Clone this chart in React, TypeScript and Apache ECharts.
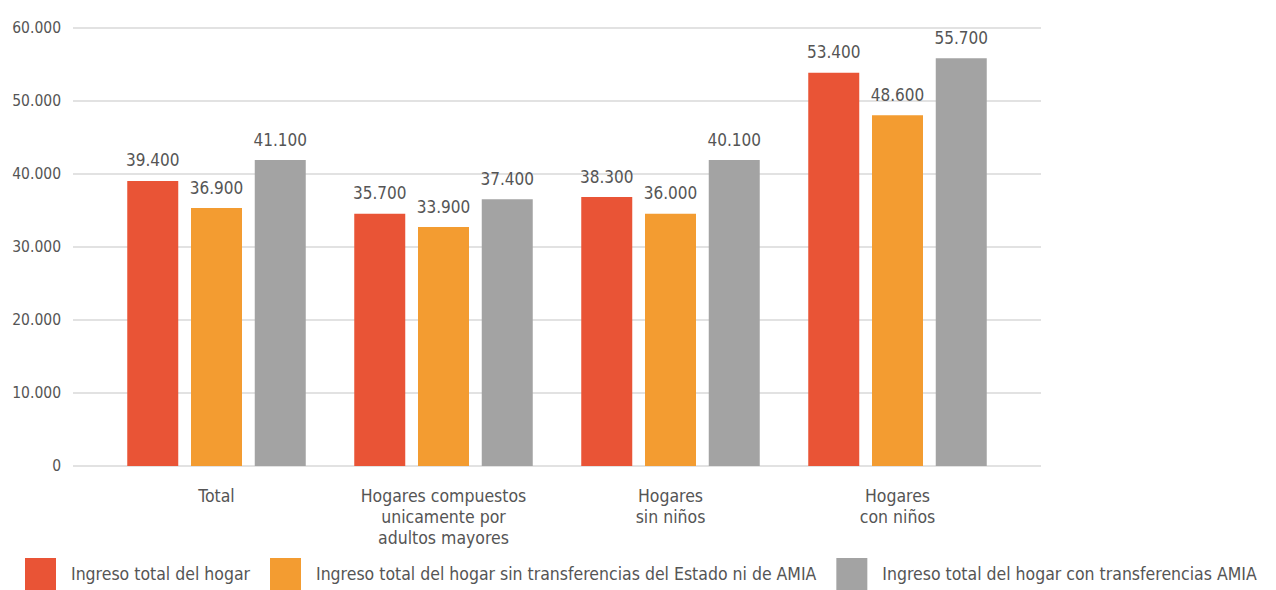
import React, { useEffect, useRef } from "react";
import * as echarts from "echarts";

const categories = [
  "Total",
  "Hogares compuestos\nunicamente por\nadultos mayores",
  "Hogares\nsin niños",
  "Hogares\ncon niños",
];
const seriesNames = [
  "Ingreso total del hogar",
  "Ingreso total del hogar sin transferencias del Estado ni de AMIA",
  "Ingreso total del hogar con transferencias AMIA",
];
// bar heights as drawn in the picture
const totalHogar = [39000, 34500, 36800, 53800];
const sinTransferencias = [35300, 32700, 34500, 48000];
const conTransferencias = [41860, 36500, 41860, 55800];
// printed labels
const totalHogarLabels = ["39.400", "35.700", "38.300", "53.400"];
const sinTransferenciasLabels = ["36.900", "33.900", "36.000", "48.600"];
const conTransferenciasLabels = ["41.100", "37.400", "40.100", "55.700"];
const yTicks = [0, 10000, 20000, 30000, 40000, 50000, 60000];

const colors = ["#E95436", "#F39C31", "#A3A3A3"];
const FONT = "'DejaVu Sans Condensed', 'DejaVu Sans', sans-serif";
const TEXT = "#555555";

export default function App() {
  const ref = useRef<HTMLDivElement>(null);
  useEffect(() => {
    if (!ref.current) return;
    const chart = echarts.init(ref.current, undefined, { renderer: "svg" });
    const fmt = (v: number) =>
      v === 0 ? "0" : String(v).replace(/\B(?=(\d{3})+(?!\d))/g, ".");
    const mk = (i: number, data: number[], labels: string[]) => ({
      type: "bar",
      name: seriesNames[i],
      xAxisIndex: 1,
      yAxisIndex: 1,
      data,
      barWidth: 51,
      barGap: "25%",
      itemStyle: { color: colors[i] },
      label: {
        show: true,
        position: "top",
        distance: 12,
        fontFamily: FONT,
        fontSize: 17,
        color: TEXT,
        formatter: (p: any) => labels[p.dataIndex],
      },
    });
    chart.setOption({
      animation: false,
      textStyle: { fontFamily: FONT },
      legend: {
        left: 25,
        top: 558,
        padding: 0,
        itemWidth: 31,
        itemHeight: 32,
        itemGap: 20,
        icon: "rect",
        data: seriesNames,
        textStyle: {
          fontFamily: FONT,
          fontSize: 17.5,
          color: TEXT,
          padding: [3, 0, 0, 10],
        },
      },
      grid: [
        { left: 73, right: 235, top: 27.5, bottom: 124 },
        { left: 103, right: 265, top: 27.5, bottom: 124 },
      ],
      xAxis: [
        { type: "value", gridIndex: 0, show: false, min: 0, max: 1 },
        {
          type: "category",
          gridIndex: 1,
          data: categories,
          axisLine: { show: false },
          axisTick: { show: false },
          axisLabel: {
            margin: 19,
            fontFamily: FONT,
            fontSize: 17.5,
            lineHeight: 21,
            color: TEXT,
            interval: 0,
          },
        },
      ],
      yAxis: [
        {
          type: "value",
          gridIndex: 0,
          min: yTicks[0],
          max: yTicks[yTicks.length - 1],
          interval: 10000,
          axisLine: { show: false },
          axisTick: { show: false },
          splitLine: { lineStyle: { color: "#D9D9D9", width: 1.5 } },
          axisLabel: {
            margin: 12,
            fontFamily: FONT,
            fontSize: 15.5,
            color: TEXT,
            verticalAlign: "middle",
            padding: [0, 0, 10, 0],
            formatter: (v: number) => fmt(v),
          },
        },
        {
          type: "value",
          gridIndex: 1,
          min: yTicks[0],
          max: yTicks[yTicks.length - 1],
          interval: 10000,
          show: false,
        },
      ],
      series: [
        mk(0, totalHogar, totalHogarLabels),
        mk(1, sinTransferencias, sinTransferenciasLabels),
        mk(2, conTransferencias, conTransferenciasLabels),
      ],
    });
    return () => chart.dispose();
  }, []);
  return (
    <div
      ref={ref}
      style={{ position: "absolute", left: 0, top: 0, width: 1276, height: 590 }}
    />
  );
}
